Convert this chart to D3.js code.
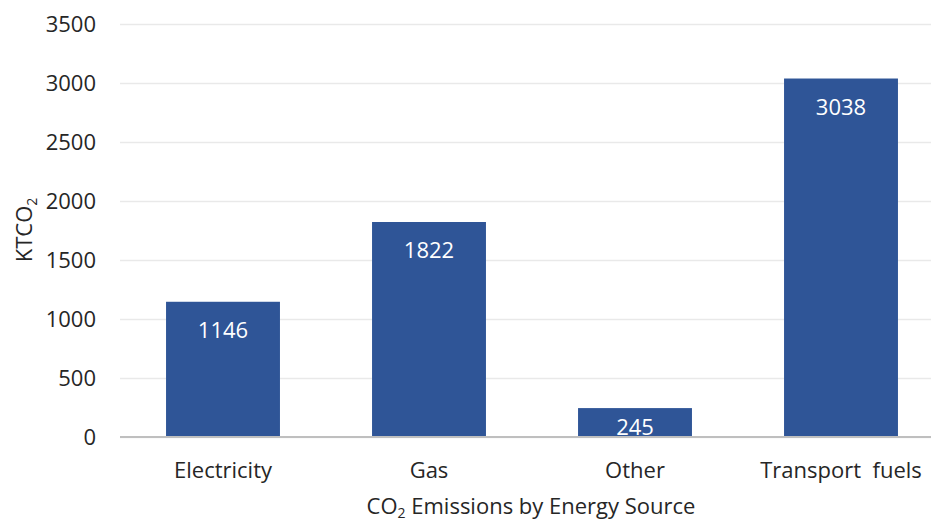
<!DOCTYPE html>
<html>
<head>
<meta charset="utf-8">
<script src="https://cdn.jsdelivr.net/npm/d3@7"></script>
<style>
  body { margin: 0; background: #fff; overflow: hidden; }
  svg text { font-family: "Open Sans", "Noto Sans", sans-serif; }
</style>
</head>
<body>
<div class="graphHold"></div>
<script>
/* données */
let categories = ['Electricity', 'Gas', 'Other', 'Transport  fuels'];
let values = [1146, 1822, 245, 3038];
let yTicks = [0, 500, 1000, 1500, 2000, 2500, 3000, 3500];

let width = 931,
    height = 521,
    plotLeft = 120,
    plotRight = 931,
    plotTop = 24,
    plotBottom = 437,
    fontSize = '22px';

let svg = d3.select('.graphHold').
append('svg').
attr('width', width).
attr('height', height).
style('display', 'block');

/* échelles (le graphique d'origine est coupé à droite) */
let xScale = d3.scaleBand().
domain(categories).
range([plotLeft, 944]).
paddingInner(0.447).
paddingOuter(0.2235);

let yScale = d3.scaleLinear().
domain([0, 3500]).
range([plotBottom, plotTop]);

/* grille */
svg.append('g').
attr('transform', 'translate(' + plotLeft + ', 0)').
call(d3.axisLeft(yScale).tickValues(yTicks).tickSize(-(plotRight - plotLeft)).tickFormat('')).
call((g) => g.select('.domain').remove()).
call((g) => g.selectAll('line').attr('stroke', '#e9e9e9').attr('stroke-width', 1.5));

/* labels axe Y */
svg.append('g').
attr('transform', 'translate(96, 0)').
call(d3.axisLeft(yScale).tickValues(yTicks).tickSize(0).tickPadding(0).tickFormat(d3.format('d'))).
call((g) => g.select('.domain').remove()).
call((g) => g.selectAll('text').attr('fill', '#262626').style('font-size', fontSize));

/* barres */
svg.selectAll('rect.bar').
data(values).
enter().
append('rect').
attr('class', 'bar').
attr('x', (d, i) => xScale(categories[i])).
attr('y', (d) => yScale(d)).
attr('width', xScale.bandwidth()).
attr('height', (d) => plotBottom - yScale(d)).
style('fill', '#2F5597');

/* valeurs */
svg.selectAll('text.val').
data(values).
enter().
append('text').
attr('class', 'val').
attr('x', (d, i) => xScale(categories[i]) + xScale.bandwidth() / 2).
attr('y', (d) => Math.min(yScale(d) + 36, plotBottom - 2)).
attr('text-anchor', 'middle').
style('font-size', fontSize).
style('fill', '#fff').
text((d) => d);

/* axe X */
svg.append('g').
attr('transform', 'translate(0, ' + plotBottom + ')').
call(d3.axisBottom(xScale).tickSize(0).tickPadding(25)).
call((g) => g.select('.domain').attr('stroke', '#bfbfbf').attr('stroke-width', 2).attr('d', 'M' + plotLeft + ',0H' + plotRight)).
call((g) => g.selectAll('text').attr('fill', '#262626').style('font-size', fontSize).style('white-space', 'pre'));

/* titre axe X */
let xt = svg.append('text').
attr('x', 531).
attr('y', 514).
attr('text-anchor', 'middle').
style('font-size', fontSize).
style('fill', '#262626');
xt.append('tspan').text('CO');
xt.append('tspan').attr('dy', 4).style('font-size', '14px').text('2');
xt.append('tspan').attr('dy', -4).text(' Emissions by Energy Source');

/* titre axe Y */
let yt = svg.append('text').
attr('transform', 'translate(32, 230) rotate(-90)').
attr('text-anchor', 'middle').
style('font-size', fontSize).
style('fill', '#262626');
yt.append('tspan').text('KTCO');
yt.append('tspan').attr('dy', 5).style('font-size', '14px').text('2');
</script>
</body>
</html>
